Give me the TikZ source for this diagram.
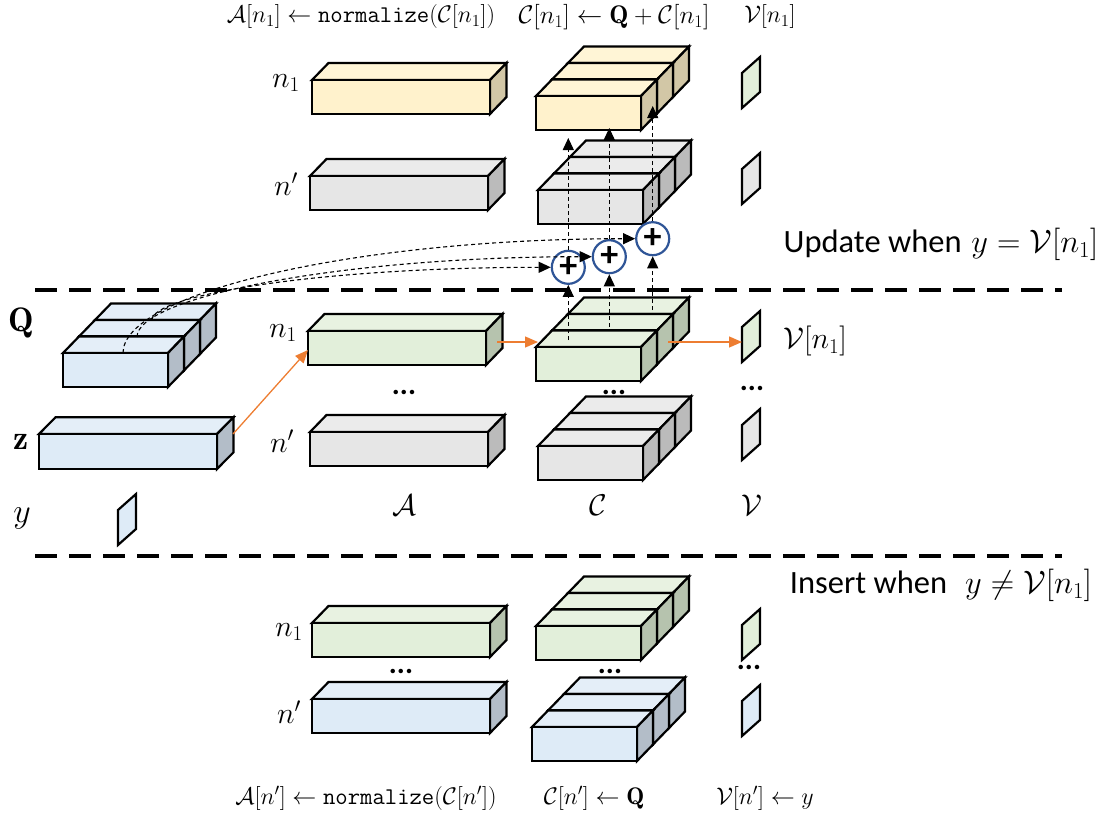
\RequirePackage{fix-cm}
\documentclass[tikz,border=0pt]{standalone}
\usepackage{fontspec}
\newfontfamily\calib{Carlito}
\usetikzlibrary{arrows.meta}
\definecolor{yelF}{HTML}{FFF2CC}\definecolor{yelT}{HTML}{FFF5D6}\definecolor{yelS}{HTML}{D2C7A6}
\definecolor{grnF}{HTML}{E2EFDA}\definecolor{grnT}{HTML}{E8F2E1}\definecolor{grnS}{HTML}{B6C3AE}
\definecolor{gryF}{HTML}{E6E6E6}\definecolor{gryT}{HTML}{EBEBEB}\definecolor{gryS}{HTML}{BBBBBB}
\definecolor{bluF}{HTML}{DEEBF7}\definecolor{bluT}{HTML}{E4EEF8}\definecolor{bluS}{HTML}{B3BDC8}
\definecolor{orng}{HTML}{ED7D31}\definecolor{pblue}{HTML}{2F5597}
% #1 name, #2 x, #3 y (front top-left), #4 w, #5 h, #6 dx, #7 dy, #8 colour prefix
\newcommand{\cuboid}[8]{%
  \filldraw[boxline,fill=#8T] (#2,#3) -- ++(#6,-#7) -- ++(#4,0) -- ++(-#6,#7) -- cycle;
  \filldraw[boxline,fill=#8S] ({#2+#4},#3) -- ++(#6,-#7) -- ++(0,#5) -- ++(-#6,#7) -- cycle;
  \filldraw[boxline,fill=#8F] (#2,#3) rectangle ++(#4,#5);
  \coordinate (#1) at (#2,#3);}
\newcommand{\cstack}[4]{%
  \cuboid{#1b}{#2+32}{#3-33}{105}{34}{16}{16.5}{#4}
  \cuboid{#1m}{#2+16}{#3-16.5}{105}{34}{16}{16.5}{#4}
  \cuboid{#1f}{#2}{#3}{105}{34}{16}{16.5}{#4}}
\newcommand{\vbar}[4]{%
  \filldraw[boxline,fill=#4F] (#2,#3) -- ++(18,-16) -- ++(0,35) -- ++(-18,16) -- cycle;
  \coordinate (#1) at (#2,#3);}
\begin{document}
\begin{tikzpicture}[x=1pt,y=-1pt,
  boxline/.style={draw=black,line width=2.2pt,line join=miter},
  sep/.style={line width=4pt,dash pattern=on 22pt off 12pt},
  dasharrow/.style={line width=1.1pt,dash pattern=on 4pt off 3pt,-{Triangle[length=12pt,width=11pt]}},
  orarrow/.style={orng,line width=1.3pt,-{Triangle[length=13pt,width=11pt]}},
  plus/.style={circle,draw=pblue,line width=2.2pt,fill=white,minimum size=33pt,inner sep=0pt,
    font=\fontsize{36}{36}\selectfont\calib\bfseries},
  formula/.style={inner sep=1pt,font=\fontsize{24}{28}\selectfont},
  rowlab/.style={font=\fontsize{30}{34}\selectfont},
  collab/.style={font=\fontsize{30}{34}\selectfont},
  sidelab/.style={font=\fontsize{34}{38}\selectfont},
  dots/.style={font=\fontsize{30}{30}\selectfont\calib\bfseries},
  cond/.style={font=\fontsize{32.5}{38}\selectfont}]
\useasboundingbox (0,0) rectangle (1114,816);

% separators
\coordinate (sepAa) at (35,290); \coordinate (sepAb) at (1062,290);
\coordinate (sepBa) at (35,556); \coordinate (sepBb) at (1062,556);
\draw[sep] (sepAa) -- (sepAb);
\draw[sep] (sepBa) -- (sepBb);

% top section
\cuboid{Ay}{312}{80}{178}{34}{16.5}{17}{yel}
\cstack{Cy}{536}{96}{yel}
\vbar{Vy}{742}{73}{grn}
\cuboid{Ag1}{310}{176}{178}{34}{16.5}{17}{gry}
\cstack{Cg1}{538}{190}{gry}
\vbar{Vg1}{742}{169}{gry}

% middle section
\cstack{Q}{63}{353}{blu}
\cuboid{Z}{39}{434}{178}{35}{16.5}{16.7}{blu}
\vbar{Y}{118}{510}{blu}
\cuboid{Ag}{308}{331}{178}{34}{16.5}{17}{grn}
\cstack{Cg}{536}{347}{grn}
\vbar{Vg}{742}{327}{grn}
\cuboid{Ar}{310}{432}{178}{34}{16.5}{17}{gry}
\cstack{Cr}{538}{446}{gry}
\vbar{Vr}{742}{425}{gry}

% bottom section
\cuboid{Ab}{312}{623}{178}{34}{16.5}{17}{grn}
\cstack{Cb}{536}{626}{grn}
\vbar{Vb}{742}{625}{grn}
\cuboid{An}{312}{699}{178}{34}{16.5}{17}{blu}
\cstack{Cn}{532}{727}{blu}
\vbar{Vn}{742}{701}{blu}

% plus nodes
\node[plus] (p1) at (568.3,267.3) {+};
\node[plus] (p2) at (609.3,256.7) {+};
\node[plus] (p3) at (652.7,238.7) {+};

% dashed connectors
\coordinate (s1) at (568.3,340); \coordinate (s2) at (609.3,327); \coordinate (s3) at (652.7,310);
\coordinate (t1) at (568.3,138); \coordinate (t2) at (609.3,128); \coordinate (t3) at (652.7,106);
\draw[dasharrow] (s1) -- (p1.south);
\draw[dasharrow] (s2) -- (p2.south);
\draw[dasharrow] (s3) -- (p3.south);
\draw[dasharrow] (p1.north) -- (t1);
\draw[dasharrow] (p2.north) -- (t2);
\draw[dasharrow] (p3.north) -- (t3);
\coordinate (q1) at (123,353); \coordinate (q2) at (137,337); \coordinate (q3) at (152,320);
\draw[dasharrow] (q1) .. controls +(0,-60) and +(-280,0) .. (p3.west);
\draw[dasharrow] (q2) .. controls +(0,-40) and +(-250,0) .. (p2.west);
\draw[dasharrow] (q3) .. controls +(0,-25) and +(-230,0) .. (p1.west);

% orange connectors
\coordinate (zo) at (233,434); \coordinate (ai) at (308,350);
\coordinate (ao) at (497,342); \coordinate (ci) at (538,342);
\coordinate (co) at (668,342); \coordinate (vi) at (742,342);
\draw[orarrow] (zo) -- (ai);
\draw[orarrow] (ao) -- (ci);
\draw[orarrow] (co) -- (vi);

% formulas top / bottom
\node[formula] (fA1) at (361,17) {$\mathcal{A}[n_1]\leftarrow\texttt{normalize}(\mathcal{C}[n_1])$};
\node[formula,font=\fontsize{25.5}{30}\selectfont] (fC1) at (614,17) {$\mathcal{C}[n_1]\leftarrow\mathbf{Q}+\mathcal{C}[n_1]$};
\node[formula] (fV1) at (770,17) {$\mathcal{V}[n_1]$};
\node[formula] (fA2) at (366,798) {$\mathcal{A}[n']\leftarrow\texttt{normalize}(\mathcal{C}[n'])$};
\node[formula] (fC2) at (594,798) {$\mathcal{C}[n']\leftarrow\mathbf{Q}$};
\node[formula] (fV2) at (765,798) {$\mathcal{V}[n']\leftarrow y$};

% row labels
\node[rowlab] (ln1a) at (286,83) {$n_1$};
\node[rowlab] (lnpa) at (286,184) {$n'$};
\node[rowlab] (ln1b) at (283,333) {$n_1$};
\node[rowlab] (lnpb) at (282,441) {$n'$};
\node[rowlab] (ln1c) at (289,632) {$n_1$};
\node[rowlab] (lnpc) at (289,712) {$n'$};
\node[sidelab] (lQ) at (21,323) {$\mathbf{Q}$};
\node[sidelab] (lz) at (21,442) {$\mathbf{z}$};
\node[sidelab] (ly) at (22,518) {$y$};
\node[collab] (lA) at (404,505) {$\mathcal{A}$};
\node[collab] (lC) at (598,505) {$\mathcal{C}$};
\node[collab] (lV) at (752,505) {$\mathcal{V}$};
\node[collab] (lVn) at (815,341) {$\mathcal{V}[n_1]$};

% dots
\node[dots] (d1) at (404,392) {...};
\node[dots] (d2) at (614,392) {...};
\node[dots] (d3) at (752,388) {...};
\node[dots] (d4) at (401,671) {...};
\node[dots] (d5) at (610,671) {...};
\node[dots] (d6) at (749,667) {...};

% conditions
\node[cond] (upd) at (941,244) {{\calib Update when} $y=\mathcal{V}[n_1]$};
\node[cond] (ins) at (941,585) {{\calib Insert when}\hspace{18pt}$y\neq\mathcal{V}[n_1]$};
\end{tikzpicture}
\end{document}
